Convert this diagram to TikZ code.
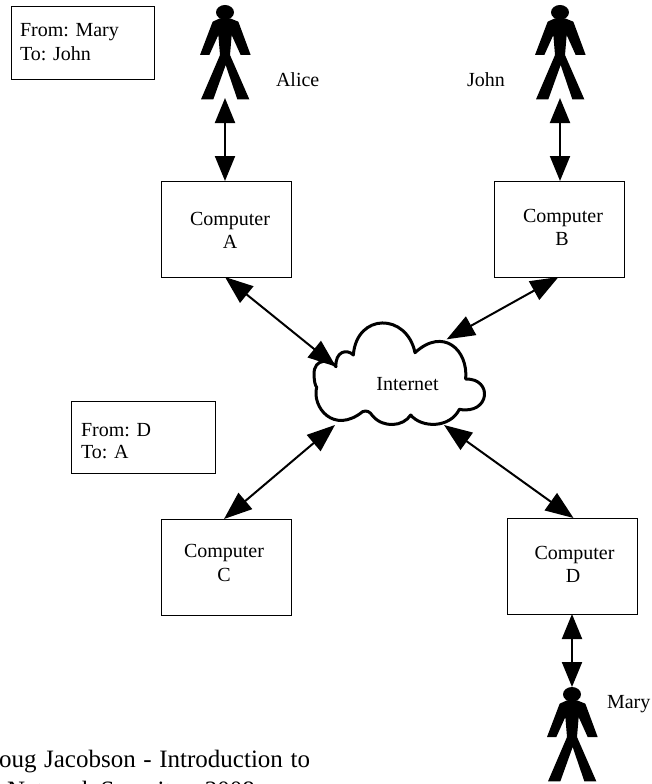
\documentclass[tikz,border=0pt]{standalone}
\usepackage{fontspec}
\setmainfont{Liberation Serif}
\usetikzlibrary{arrows.meta}
\tikzset{
  hostbox/.style={draw=black,line width=1pt,fill=white,inner sep=0pt,outer sep=0pt,minimum width=130pt,minimum height=96pt},
  notebox/.style={draw=black,line width=1pt,fill=white,inner sep=0pt,outer sep=0pt},
  txt/.style={inner sep=0pt,outer sep=0pt,anchor=base,font=\fontsize{20}{23}\selectfont},
  txtw/.style={txt,anchor=base west},
  foot/.style={inner sep=0pt,outer sep=0pt,anchor=base west,font=\fontsize{25}{29}\selectfont},
  link/.style={line width=2pt,{Triangle[length=25pt,width=20pt]}-{Triangle[length=25pt,width=20pt]}},
  dlink/.style={line width=2pt,{Triangle[length=28pt,width=21pt]}-{Triangle[length=28pt,width=21pt]}},
  figure/.style={fill=black,draw=none},
  cloudline/.style={draw=black,line width=3pt,fill=white,line join=round,line cap=round}
}
\newcommand{\persondraw}[3]{%
  \begin{scope}[shift={(#2,#3)},xscale=1/3,yscale=1/3]
    \fill[figure] (0,22) ellipse (27 and 22);
    \fill[figure] (-15,40) -- (-37,50) -- (-75,150) -- (-47,150) -- (-20,90) -- (-15,150)
      -- (-72,283) -- (-35,283) -- (2,180) -- (37,283) -- (73,283) -- (15,150) -- (20,90)
      -- (47,150) -- (77,150) -- (40,50) -- (15,40) -- cycle;
  \end{scope}
  \coordinate (#1head) at (#2,#3);
  \coordinate (#1foot) at (#2,#3+93);
}
\begin{document}
\begin{tikzpicture}[x=1pt,y=-1pt]
\useasboundingbox (0,0) rectangle (652,784);
\clip (0,0) rectangle (652,784);
\fill[white] (0,0) rectangle (652,784);

% notes
\node[notebox,minimum width=143pt,minimum height=72pt] (note1) at (82.5,43) {};
\node[txtw] (note1a) at (20,37) {From: Mary};
\node[txtw] (note1b) at (20,60) {To: John};
\node[notebox,minimum width=144pt,minimum height=72pt] (note2) at (143,437) {};
\node[txtw] (note2a) at (81,436) {From: D};
\node[txtw] (note2b) at (81,458) {To: A};

% hosts
\node[hostbox] (ca) at (226,229) {};
\node[hostbox] (cb) at (559.5,229) {};
\node[hostbox] (cc) at (226,567) {};
\node[hostbox] (cd) at (572.5,566) {};
\node[txt] (ca1) at (230,225) {Computer};
\node[txt] (ca2) at (230,248) {A};
\node[txt] (cb1) at (563,222) {Computer};
\node[txt] (cb2) at (562,245) {B};
\node[txt] (cc1) at (224,557) {Computer};
\node[txt] (cc2) at (224,581) {C};
\node[txt] (cd1) at (574.5,559) {Computer};
\node[txt] (cd2) at (573,582) {D};

% people
\persondraw{alice}{225}{5}
\persondraw{john}{560}{5}
\persondraw{mary}{572}{687}
\node[txtw] (alicel) at (276,86) {Alice};
\node[txtw] (johnl) at (467,86) {John};
\node[txtw] (maryl) at (607,708) {Mary};

% cloud
\begin{scope}[shift={(300,310)},xscale=1/3,yscale=1/3]
\path[cloudline] (108,170)
  .. controls (95,150) and (40,140) .. (42,195)
  .. controls (43,215) and (45,225) .. (50,232)
  .. controls (35,290) and (100,375) .. (188,305)
  .. controls (200,300) and (210,305) .. (218,318)
  .. controls (250,355) and (310,350) .. (332,315)
  .. controls (365,355) and (450,355) .. (478,298)
  .. controls (570,315) and (580,205) .. (497,207)
  .. controls (505,120) and (430,50) .. (345,128)
  .. controls (320,8) and (170,8) .. (160,135)
  .. controls (140,115) and (105,125) .. (108,170) -- cycle;
\coordinate (ntA) at (108,170);
\coordinate (ntB) at (440,88);
\coordinate (ntC) at (105,345);
\coordinate (ntD) at (432,345);
\end{scope}
\node[txt] (inet) at (407.5,390) {Internet};

% links
\draw[link] (alicefoot) -- (alicefoot |- ca.north);
\draw[link] (johnfoot) -- (johnfoot |- cb.north);
\draw[link] (maryhead |- cd.south) -- (maryhead);
\draw[dlink] ([xshift=-1pt]ca.south) -- (ntA);
\draw[dlink] ([xshift=-1pt]cb.south) -- (ntB);
\draw[dlink] ([xshift=-2pt]cc.north) -- (ntC);
\draw[dlink] ([xshift=1pt]cd.north) -- (ntD);

% footer
\node[foot] (f1) at (-19,767) {\makebox[329pt][s]{Doug Jacobson - Introduction to}};
\node[foot] (f2) at (7,798) {Network Security - 2008};
\end{tikzpicture}
\end{document}
